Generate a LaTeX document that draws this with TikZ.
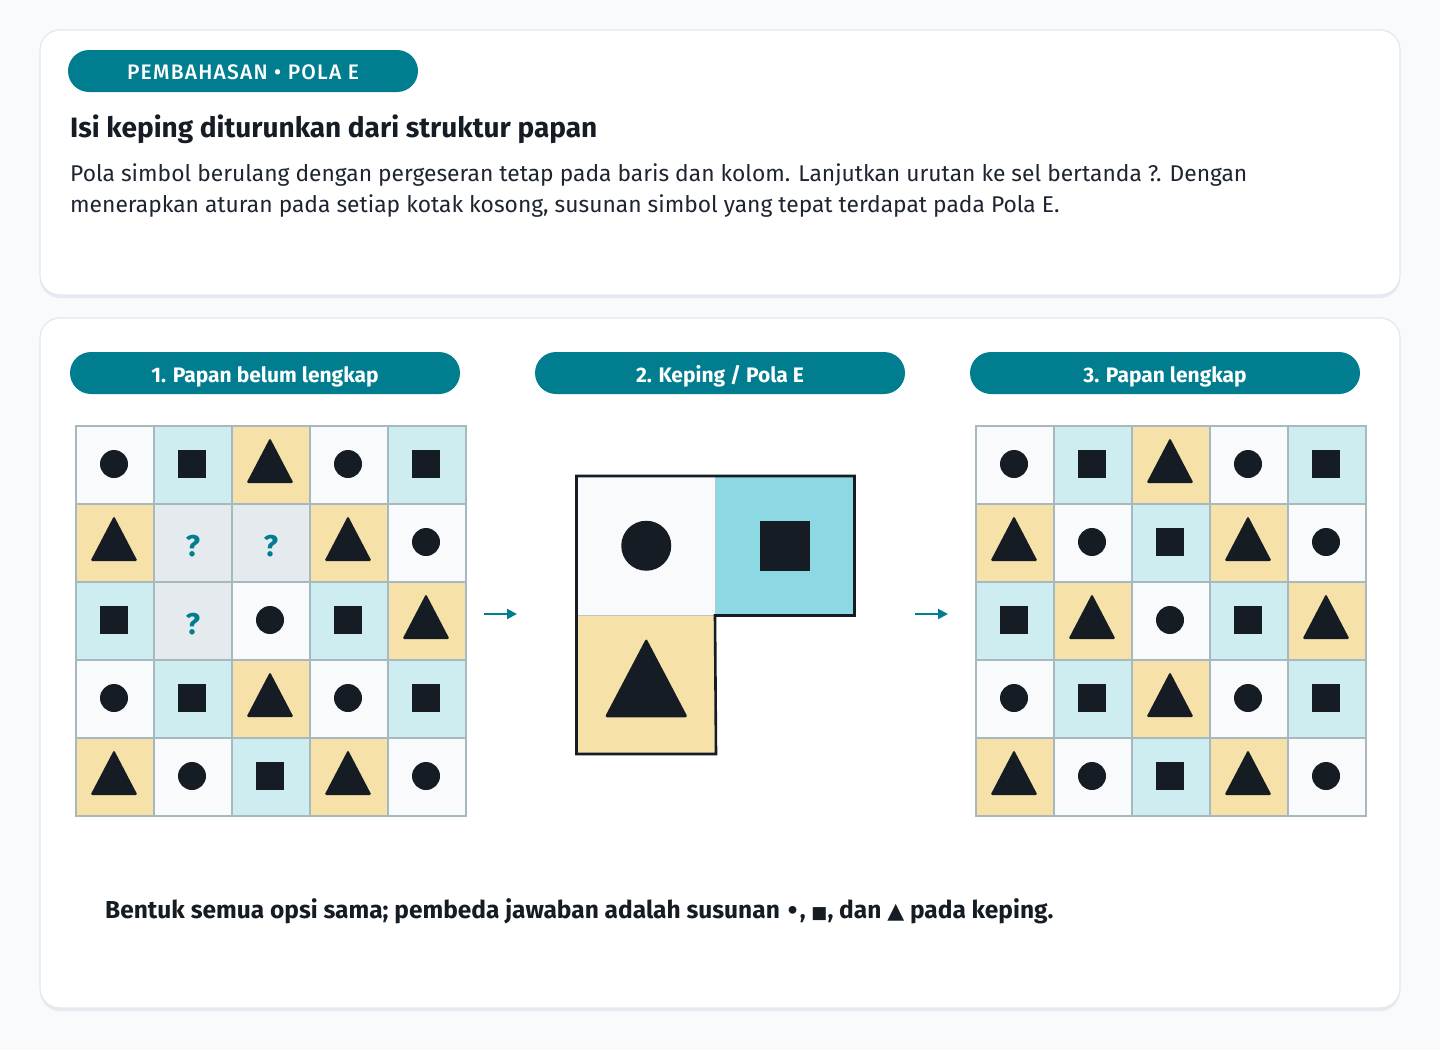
\documentclass[tikz,border=0pt]{standalone}
\usepackage{fontspec}
\setmainfont{Fira Sans}
\newfontfamily\symf{DejaVu Sans}
\newfontfamily\medf[LetterSpace=6]{Fira Sans Medium}
\usetikzlibrary{arrows.meta,calc}
\definecolor{bgc}{HTML}{F8FAFC}
\definecolor{cardline}{HTML}{E2E8F0}
\definecolor{shadowc}{HTML}{E4EAEF}
\definecolor{tealc}{HTML}{007E8F}
\definecolor{inkc}{HTML}{161C24}
\definecolor{txtc}{HTML}{1E2530}
\definecolor{cellw}{HTML}{F8FAFC}
\definecolor{cellc}{HTML}{CDEDF1}
\definecolor{celly}{HTML}{F6E2A9}
\definecolor{cellg}{HTML}{E4EAEE}
\definecolor{piecec}{HTML}{8CD9E3}
\definecolor{gridc}{HTML}{A7B8BF}
\tikzset{
  card/.style={fill=white, draw=cardline, line width=1.2pt, rounded corners=20pt},
  cardshadow/.style={fill=shadowc, rounded corners=20pt},
  pill/.style={fill=tealc, rounded corners=21pt, inner sep=0pt, minimum height=42pt},
  pilltext/.style={text=white, inner sep=0pt},
  cellbox/.style={draw=gridc, line width=1.5pt, minimum size=78pt, inner sep=0pt, anchor=north west},
  piecebox/.style={draw=gridc!80!white, line width=1pt, minimum size=138.5pt, inner sep=0pt, anchor=north west},
  symb/.style={fill=inkc},
  qmark/.style={text=tealc, font=\fontsize{30}{30}\selectfont\bfseries},
  flowarrow/.style={draw=tealc, line width=2pt, -{Triangle[length=10pt,width=10pt]}},
}
\newcommand{\cellfill}[1]{\ifcase#1 cellw\or cellc\or celly\fi}
\newcommand{\drawsym}[4]{% type, cx, cy, scale
  \ifcase#1
    \fill[symb] (#2,#3) circle (14pt*#4);
  \or
    \fill[symb] ($(#2,#3)+(-14*#4,-14*#4)$) rectangle ($(#2,#3)+(14*#4,14*#4)$);
  \or
    \fill[symb, rounded corners=1.5pt] ($(#2,#3)+(0,-26*#4)$) -- ($(#2,#3)+(23.5*#4,19*#4)$) -- ($(#2,#3)+(-23.5*#4,19*#4)$) -- cycle;
  \fi}
\begin{document}
\begin{tikzpicture}[x=1pt,y=-1pt]
\useasboundingbox (0,0) rectangle (1440,1050);
\fill[bgc] (0,0) rectangle (1440,1050);
% cards
\fill[cardshadow] (40,33) rectangle (1400,298);
\draw[card] (40,30) rectangle (1400,295);
\fill[cardshadow] (40,321) rectangle (1400,1011);
\draw[card] (40,318) rectangle (1400,1008);
% header
\node[pill, minimum width=350pt] (hdr) at (243,71) {};
\node[pilltext, font=\fontsize{21}{21}\selectfont\medf] (hdrt) at ($(hdr.center)+(0,1.5)$) {PEMBAHASAN • POLA E};
\node[anchor=base west, inner sep=0pt, text=inkc, font=\fontsize{28}{28}\selectfont\bfseries] (title) at (70,137) {Isi keping diturunkan dari struktur papan};
\node[anchor=base west, inner sep=0pt, text=txtc, font=\fontsize{22.8}{22.8}\selectfont] (para1) at (70,181) {Pola simbol berulang dengan pergeseran tetap pada baris dan kolom. Lanjutkan urutan ke sel bertanda ?. Dengan};
\node[anchor=base west, inner sep=0pt, text=txtc, font=\fontsize{22.8}{22.8}\selectfont] (para2) at (70,212) {menerapkan aturan pada setiap kotak kosong, susunan simbol yang tepat terdapat pada Pola E.};
% panel pills
\node[pill, minimum width=390pt] (pl1) at (265,373) {};
\node[pill, minimum width=370pt] (pl2) at (720,373) {};
\node[pill, minimum width=390pt] (pl3) at (1165,373) {};
\node[pilltext, font=\fontsize{21}{21}\selectfont\bfseries, anchor=base] (pl1t) at ($(pl1.center)+(0,9)$) {1. Papan belum lengkap};
\node[pilltext, font=\fontsize{21}{21}\selectfont\bfseries, anchor=base] (pl2t) at ($(pl2.center)+(0,9)$) {2. Keping / Pola E};
\node[pilltext, font=\fontsize{21}{21}\selectfont\bfseries, anchor=base] (pl3t) at ($(pl3.center)+(0,9)$) {3. Papan lengkap};
% boards
\foreach \bx/\bn in {75/1, 975/3}{
  \foreach \r in {0,...,4}{
    \foreach \c in {0,...,4}{
      \pgfmathtruncatemacro\s{mod(\c-\r+6,3)}
      \pgfmathsetmacro\cx{\bx+78*\c}
      \pgfmathsetmacro\cy{425+78*\r}
      \pgfmathtruncatemacro\miss{(\bn==1)*((\r==1)*(\c==1)+(\r==1)*(\c==2)+(\r==2)*(\c==1))}
      \ifnum\miss=1
        \node[cellbox, fill=cellg] (b\bn-\r-\c) at (\cx,\cy) {};
        \node[qmark] (q\bn-\r-\c) at ($(b\bn-\r-\c.center)+(0,3)$) {?};
      \else
        \node[cellbox, fill=\cellfill{\s}] (b\bn-\r-\c) at (\cx,\cy) {};
        \drawsym{\s}{\cx+39}{\cy+39}{1}
      \fi
    }
  }
}
% piece
\node[piecebox, fill=cellw] (pc1) at (576.5,476) {};
\node[piecebox, fill=piecec] (pc2) at (715,476) {};
\node[piecebox, fill=celly] (pc3) at (576.5,614.5) {};
\draw[inkc, line width=2.6pt, line join=miter] (pc1.north west) -- (pc2.north east) -- (pc2.south east) -- (pc2.south west) -- (pc3.south east) -- (pc3.south west) -- cycle;
\fill[symb] (pc1.center) circle (25pt);
\fill[symb] ($(pc2.center)+(-25,-25)$) rectangle ($(pc2.center)+(25,25)$);
\fill[symb, rounded corners=2.5pt] ($(pc3.center)+(0,-46)$) -- ($(pc3.center)+(41.5,33)$) -- ($(pc3.center)+(-41.5,33)$) -- cycle;
% arrows
\coordinate (a1s) at (484,614);
\coordinate (a1e) at (517,614);
\coordinate (a2s) at (915,614);
\coordinate (a2e) at (948,614);
\draw[flowarrow] (a1s) -- (a1e);
\draw[flowarrow] (a2s) -- (a2e);
% footer
\node[anchor=base west, inner sep=0pt, text=inkc, font=\fontsize{24.5}{24.5}\selectfont\bfseries] (foot) at (105,918) {Bentuk semua opsi sama; pembeda jawaban adalah susunan {\symf\fontsize{22}{22}\selectfont •}, {\symf\fontsize{17}{17}\selectfont ■}, dan {\symf\fontsize{22}{22}\selectfont ▲} pada keping.};
\end{tikzpicture}
\end{document}
